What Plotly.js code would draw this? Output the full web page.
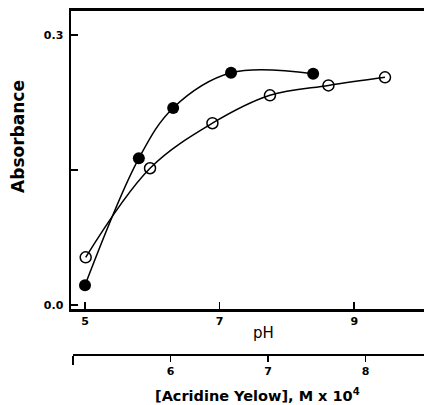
<!DOCTYPE html>
<html>
<head>
<meta charset="utf-8">
<script src="https://cdn.plot.ly/plotly-3.0.1.min.js"></script>
<style>html,body{margin:0;padding:0;background:#fff;}#chart{width:424px;height:405px;}</style>
</head>
<body>
<div id="chart"></div>
<script>
// Filled circles: absorbance vs pH
const phValues = [5.0, 5.80, 6.31, 7.17, 8.39];
const absPH = [0.022, 0.163, 0.219, 0.258, 0.257];
// Open circles: absorbance vs [Acridine Yellow], M x 10^4
const concValues = [5.13, 5.79, 6.43, 7.02, 7.62, 8.20];
const absConc = [0.053, 0.152, 0.202, 0.233, 0.244, 0.253];

const yTickVals = [0, 0.3];
const yTickText = ['0.0', '0.3'];
const yMinorTicks = [0.15];
const phTickVals = [5, 7, 9];
const phTickText = ['5', '7', '9'];
const concTickVals = [6, 7, 8];
const concTickText = ['6', '7', '8'];
const concMinorTicks = [5];

const tickFont = {family: 'DejaVu Sans, Arial, sans-serif', size: 11, color: '#000', weight: 'bold'};

const traces = [
  {
    x: phValues, y: absPH, xaxis: 'x', yaxis: 'y',
    mode: 'lines+markers', type: 'scatter',
    line: {color: '#000', width: 1.5, shape: 'spline', smoothing: 1},
    marker: {symbol: 'circle', size: 12, color: '#000'},
    showlegend: false, hoverinfo: 'skip'
  },
  {
    x: concValues, y: absConc, xaxis: 'x2', yaxis: 'y',
    mode: 'lines+markers', type: 'scatter',
    line: {color: '#000', width: 1.5, shape: 'spline', smoothing: 1},
    marker: {symbol: 'circle-open', size: 11, color: '#000', line: {width: 1.5, color: '#000'}},
    showlegend: false, hoverinfo: 'skip'
  }
];

const layout = {
  width: 424, height: 405,
  margin: {l: 71, r: 0, t: 11, b: 51, pad: 0},
  paper_bgcolor: '#fff', plot_bgcolor: 'rgba(0,0,0,0)',
  showlegend: false,
  xaxis: {
    domain: [0, 1], anchor: 'y',
    range: [4.792, 10.037],
    tickvals: phTickVals, ticktext: phTickText,
    ticks: 'inside', ticklen: 7, tickwidth: 1.5, tickcolor: '#000',
    showline: true, linewidth: 3, linecolor: '#000', mirror: true,
    showgrid: false, zeroline: false,
    tickfont: tickFont
  },
  xaxis2: {
    domain: [2/353, 1], anchor: 'free', position: 0,
    range: [5.0, 8.6],
    tickvals: concTickVals, ticktext: concTickText,
    ticks: 'outside', ticklen: 6, tickwidth: 1.5, tickcolor: '#000',
    minor: {tickmode: 'array', tickvals: concMinorTicks, ticks: 'outside', ticklen: 9, tickwidth: 1.5, tickcolor: '#000', showgrid: false},
    showline: true, linewidth: 1.5, linecolor: '#000',
    showgrid: false, zeroline: false,
    tickfont: tickFont
  },
  yaxis: {
    domain: [45/343, 1], anchor: 'x',
    range: [-0.0044, 0.3267],
    tickvals: yTickVals, ticktext: yTickText,
    ticks: 'inside', ticklen: 7, tickwidth: 1.5, tickcolor: '#000',
    minor: {tickmode: 'array', tickvals: yMinorTicks, ticks: 'inside', ticklen: 7, tickwidth: 1.5, tickcolor: '#000', showgrid: false},
    showline: true, linewidth: 2.5, linecolor: '#000',
    showgrid: false, zeroline: false,
    tickfont: tickFont, ticklabelstandoff: 3
  },
  annotations: [
    {text: 'Absorbance', xref: 'paper', yref: 'paper', x: -0.150, y: 0.633,
     textangle: -90, showarrow: false, xanchor: 'center', yanchor: 'middle',
     font: {family: 'DejaVu Sans, Arial, sans-serif', size: 17, color: '#000', weight: 'bold'}},
    {text: 'pH', xref: 'paper', yref: 'paper', x: 0.544, y: 0.0612,
     showarrow: false, xanchor: 'center', yanchor: 'middle',
     font: {family: 'DejaVu Sans, Arial, sans-serif', size: 15, color: '#000'}},
    {text: '[Acridine Yelow], M x 10<sup>4</sup>', xref: 'paper', yref: 'paper', x: 0.527, y: -0.1195,
     showarrow: false, xanchor: 'center', yanchor: 'middle',
     font: {family: 'DejaVu Sans, Arial, sans-serif', size: 14.5, color: '#000', weight: 'bold'}}
  ]
};

Plotly.newPlot('chart', traces, layout, {staticPlot: true, displayModeBar: false});
</script>
</body>
</html>
